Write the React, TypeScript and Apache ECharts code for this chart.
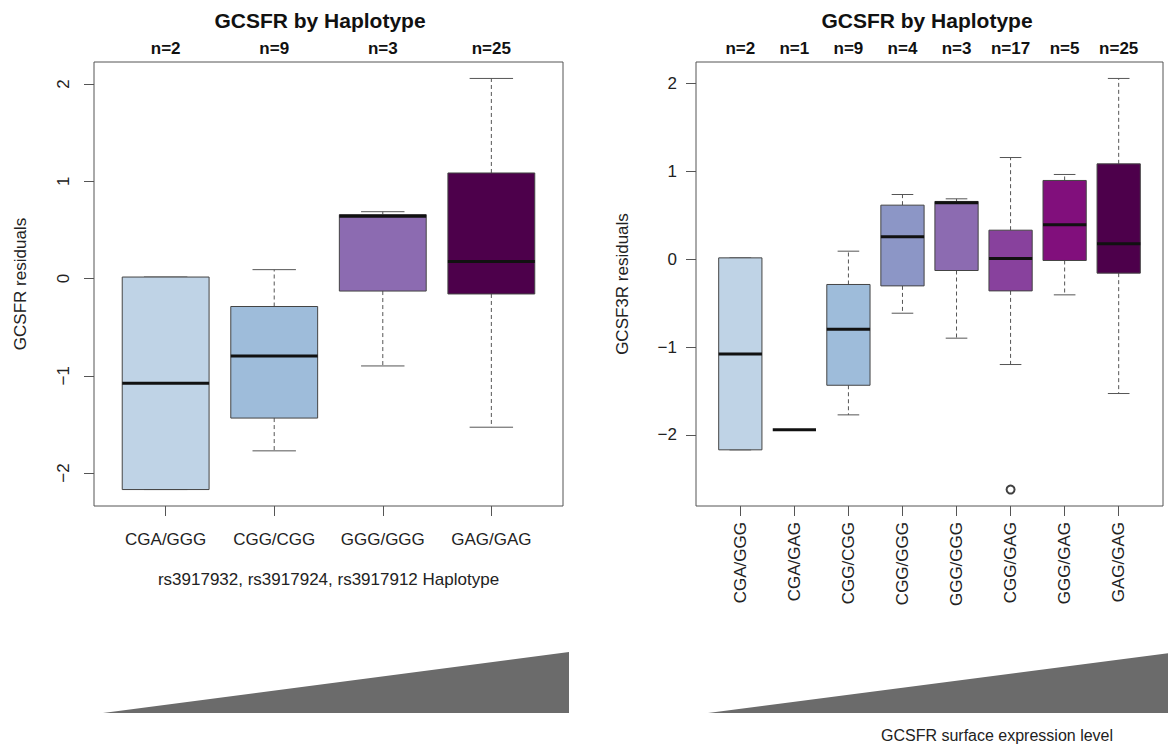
import React, { useEffect, useRef } from "react";
import * as echarts from "echarts";

// ---------- data ----------
const leftCategories = ["CGA/GGG", "CGG/CGG", "GGG/GGG", "GAG/GAG"];
const leftCounts = [2, 9, 3, 25];
const leftLow = [-2.17, -1.772, -0.899, -1.529];
const leftQ1 = [-2.17, -1.435, -0.129, -0.159];
const leftMedian = [-1.078, -0.797, 0.641, 0.175];
const leftQ3 = [0.015, -0.288, 0.657, 1.085];
const leftHigh = [0.015, 0.091, 0.687, 2.057];
const leftColors = ["#BFD3E6", "#9EBCDA", "#8C6BB1", "#4D004B"];

const rightCategories = ["CGA/GGG", "CGA/GAG", "CGG/CGG", "CGG/GGG", "GGG/GGG", "CGG/GAG", "GGG/GAG", "GAG/GAG"];
const rightCounts = [2, 1, 9, 4, 3, 17, 5, 25];
const rightLow = [-2.17, -1.94, -1.772, -0.615, -0.899, -1.199, -0.406, -1.529];
const rightQ1 = [-2.17, -1.94, -1.435, -0.304, -0.129, -0.361, -0.015, -0.159];
const rightMedian = [-1.078, -1.94, -0.797, 0.254, 0.641, 0.008, 0.391, 0.175];
const rightQ3 = [0.015, -1.94, -0.288, 0.615, 0.657, 0.33, 0.896, 1.085];
const rightHigh = [0.015, -1.94, 0.091, 0.736, 0.687, 1.157, 0.964, 2.057];
const rightColors = ["#BFD3E6", "#BFD3E6", "#9EBCDA", "#8C96C6", "#8C6BB1", "#88419D", "#810F7C", "#4D004B"];
const rightOutlierCategory = ["CGG/GAG"];
const rightOutlierValue = [-2.622];

const yTicks = [-2, -1, 0, 1, 2];

const titleText = "GCSFR by Haplotype";
const leftYName = "GCSFR residuals";
const rightYName = "GCSF3R residuals";
const leftXName = "rs3917932, rs3917924, rs3917912 Haplotype";
const footerText = "GCSFR surface expression level";

// ---------- helpers ----------
const FONT = "'Liberation Sans', Arial, Helvetica, sans-serif";
const TICK_FS = 17;
const NAME_FS = 17;
const N_FS = 17;
const TITLE_FS = 21;

function rExtent(values: number[]) {
  const lo = Math.min(...values);
  const hi = Math.max(...values);
  const pad = (hi - lo) * 0.04;
  return [lo - pad, hi + pad];
}

function makeRender(colors: string[]) {
  return (params: any, api: any) => {
    const x = api.value(0);
    const vLo = api.value(1);
    const vQ1 = api.value(2);
    const vMd = api.value(3);
    const vQ3 = api.value(4);
    const vHi = api.value(5);
    const lo = api.coord([x, vLo]);
    const q1 = api.coord([x, vQ1]);
    const md = api.coord([x, vMd]);
    const q3 = api.coord([x, vQ3]);
    const hi = api.coord([x, vHi]);
    const w = api.size([0.8, 0])[0];
    const cx = md[0];
    const children: any[] = [];
    const single = vQ1 === vQ3;
    if (!single) {
      const whisk = { stroke: "#555", lineWidth: 1, lineDash: [4, 3], fill: null };
      const cap = { stroke: "#555", lineWidth: 1, fill: null };
      if (vHi > vQ3) children.push({ type: "line", shape: { x1: cx, y1: q3[1], x2: cx, y2: hi[1] }, style: whisk });
      if (vLo < vQ1) children.push({ type: "line", shape: { x1: cx, y1: q1[1], x2: cx, y2: lo[1] }, style: whisk });
      children.push({ type: "line", shape: { x1: cx - w / 4, y1: hi[1], x2: cx + w / 4, y2: hi[1] }, style: cap });
      children.push({ type: "line", shape: { x1: cx - w / 4, y1: lo[1], x2: cx + w / 4, y2: lo[1] }, style: cap });
      children.push({
        type: "rect",
        shape: { x: cx - w / 2, y: q3[1], width: w, height: q1[1] - q3[1] },
        style: { fill: colors[params.dataIndex], stroke: "#444", lineWidth: 1 },
      });
    }
    children.push({
      type: "line",
      shape: { x1: cx - w / 2, y1: md[1], x2: cx + w / 2, y2: md[1] },
      style: { stroke: "#111", lineWidth: 3, fill: null },
    });
    return { type: "group", children };
  };
}

const minusFmt = (v: number) => (v < 0 ? "\u2212" + Math.abs(v) : String(v));

export default function App() {
  const ref = useRef<HTMLDivElement>(null);

  useEffect(() => {
    if (!ref.current) return;
    const chart = echarts.init(ref.current, null, { renderer: "svg" });

    const nL = leftCategories.length;
    const nR = rightCategories.length;
    const leftTicksX = leftCategories.map((_, i) => i + 1);
    const rightTicksX = rightCategories.map((_, i) => i + 1);
    const [lyMin, lyMax] = rExtent([...leftLow, ...leftHigh]);
    const [ryMin, ryMax] = rExtent([...rightLow, ...rightHigh, ...rightOutlierValue]);

    const leftData = leftCategories.map((_, i) => [i + 1, leftLow[i], leftQ1[i], leftMedian[i], leftQ3[i], leftHigh[i]]);
    const rightData = rightCategories.map((_, i) => [i + 1, rightLow[i], rightQ1[i], rightMedian[i], rightQ3[i], rightHigh[i]]);
    const outlierData = rightOutlierCategory.map((c, i) => [rightCategories.indexOf(c) + 1, rightOutlierValue[i]]);

    const tickStyle = { color: "#555", width: 1 };
    const labelColor = "#222";
    const noLine = { show: false, onZero: false };

    const option: any = {
      animation: false,
      backgroundColor: "#ffffff",
      textStyle: { fontFamily: FONT },
      title: [
        { text: titleText, left: 315, top: 5, textAlign: "center", textStyle: { fontSize: TITLE_FS, fontWeight: "bold", color: "#111", fontFamily: FONT } },
        { text: titleText, left: 922, top: 5, textAlign: "center", textStyle: { fontSize: TITLE_FS, fontWeight: "bold", color: "#111", fontFamily: FONT } },
      ],
      grid: [
        { left: 94, top: 62, width: 469, height: 444, show: true, borderColor: "#555", borderWidth: 1, backgroundColor: "transparent" },
        { left: 696, top: 62, width: 467, height: 444, show: true, borderColor: "#555", borderWidth: 1, backgroundColor: "transparent" },
      ],
      xAxis: [
        {
          type: "value", gridIndex: 0, position: "bottom", min: 0.5 - 0.04 * nL, max: nL + 0.5 + 0.04 * nL,
          axisLine: noLine, splitLine: { show: false },
          axisTick: { show: true, customValues: leftTicksX, length: 10, lineStyle: tickStyle },
          axisLabel: { customValues: leftTicksX, formatter: (v: number) => leftCategories[Math.round(v) - 1], fontSize: TICK_FS, color: labelColor, margin: 25, fontFamily: FONT },
          name: leftXName, nameLocation: "middle", nameGap: 65, nameTextStyle: { fontSize: NAME_FS, color: labelColor, fontFamily: FONT },
        },
        {
          type: "value", gridIndex: 1, position: "bottom", min: 0.5 - 0.04 * nR, max: nR + 0.5 + 0.04 * nR,
          axisLine: noLine, splitLine: { show: false },
          axisTick: { show: true, customValues: rightTicksX, length: 10, lineStyle: tickStyle },
          axisLabel: { customValues: rightTicksX, formatter: (v: number) => rightCategories[Math.round(v) - 1], rotate: 90, fontSize: TICK_FS, color: labelColor, margin: 16, fontFamily: FONT },
        },
        {
          type: "value", gridIndex: 0, position: "top", min: 0.5 - 0.04 * nL, max: nL + 0.5 + 0.04 * nL,
          axisLine: noLine, splitLine: { show: false }, axisTick: { show: false },
          axisLabel: { customValues: leftTicksX, formatter: (v: number) => "n=" + leftCounts[Math.round(v) - 1], fontSize: N_FS, fontWeight: "bold", color: "#111", margin: 5, fontFamily: FONT },
        },
        {
          type: "value", gridIndex: 1, position: "top", min: 0.5 - 0.04 * nR, max: nR + 0.5 + 0.04 * nR,
          axisLine: noLine, splitLine: { show: false }, axisTick: { show: false },
          axisLabel: { customValues: rightTicksX, formatter: (v: number) => "n=" + rightCounts[Math.round(v) - 1], fontSize: N_FS, fontWeight: "bold", color: "#111", margin: 5, fontFamily: FONT },
        },
      ],
      yAxis: [
        {
          type: "value", gridIndex: 0, position: "left", min: lyMin, max: lyMax,
          axisLine: noLine, splitLine: { show: false },
          axisTick: { show: true, customValues: yTicks, length: 10, lineStyle: tickStyle },
          axisLabel: { customValues: yTicks, formatter: minusFmt, rotate: 90, fontSize: TICK_FS, color: labelColor, margin: 22, fontFamily: FONT },
          name: leftYName, nameLocation: "middle", nameGap: 65, nameRotate: 90, nameTextStyle: { fontSize: NAME_FS, color: labelColor, fontFamily: FONT },
        },
        {
          type: "value", gridIndex: 1, position: "left", min: ryMin, max: ryMax,
          axisLine: noLine, splitLine: { show: false },
          axisTick: { show: true, customValues: yTicks, length: 10, lineStyle: tickStyle },
          axisLabel: { customValues: yTicks, formatter: minusFmt, fontSize: TICK_FS, color: labelColor, margin: 19, fontFamily: FONT },
          name: rightYName, nameLocation: "middle", nameGap: 65, nameRotate: 90, nameTextStyle: { fontSize: NAME_FS, color: labelColor, fontFamily: FONT },
        },
      ],
      series: [
        {
          type: "custom", xAxisIndex: 0, yAxisIndex: 0, renderItem: makeRender(leftColors),
          encode: { x: 0, y: [1, 2, 3, 4, 5] }, data: leftData, silent: true, emphasis: { disabled: true },
        },
        {
          type: "custom", xAxisIndex: 1, yAxisIndex: 1, renderItem: makeRender(rightColors),
          encode: { x: 0, y: [1, 2, 3, 4, 5] }, data: rightData, silent: true, emphasis: { disabled: true },
        },
        {
          type: "scatter", xAxisIndex: 1, yAxisIndex: 1, data: outlierData,
          symbol: "circle", symbolSize: 8, emphasis: { disabled: true },
          itemStyle: { color: "#ffffff", borderColor: "#111", borderWidth: 2 }, silent: true,
        },
      ],
      graphic: [
        { type: "polygon", shape: { points: [[103, 713], [569, 652], [569, 713]] }, style: { fill: "#6B6B6B" }, silent: true },
        { type: "polygon", shape: { points: [[708, 713], [1170, 653], [1170, 713]] }, style: { fill: "#6B6B6B" }, silent: true },
        {
          type: "text", x: 997, y: 735,
          style: { text: footerText, fontSize: 16, fill: "#222", align: "center", verticalAlign: "middle", fontFamily: FONT },
        },
      ],
    };

    chart.setOption(option);
    return () => chart.dispose();
  }, []);

  return (
    <div
      ref={ref}
      style={{ position: "fixed", left: 0, top: 0, width: 1168, height: 745, background: "#fff" }}
    />
  );
}
